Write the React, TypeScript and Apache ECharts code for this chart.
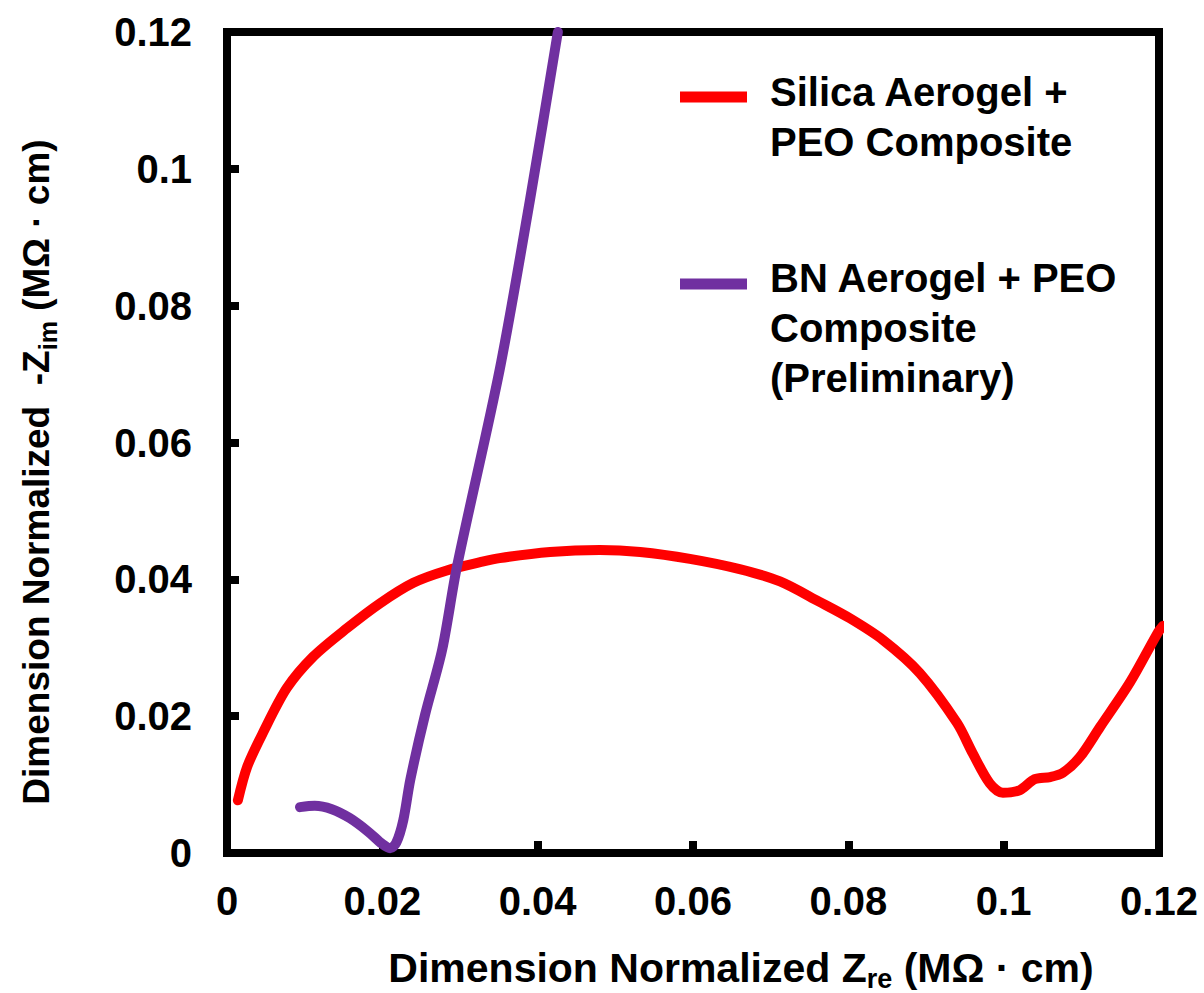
import React, { useEffect, useRef } from "react";
import * as echarts from "echarts";

const seriesNames = ["Silica Aerogel +\nPEO Composite", "BN Aerogel + PEO\nComposite\n(Preliminary)"];
const seriesColors = ["#FF0000", "#7030A0"];

const silicaZre = [0.0014, 0.0026, 0.0046, 0.0077, 0.0111, 0.0155, 0.0197, 0.024, 0.0283, 0.0326, 0.0351, 0.0416, 0.048, 0.0532, 0.0596, 0.066, 0.0712, 0.0763, 0.0802, 0.0845, 0.0892, 0.094, 0.096, 0.0982, 0.0999, 0.1021, 0.104, 0.106, 0.1076, 0.1098, 0.1124, 0.1163, 0.1199, 0.1205];
const silicaZim = [0.0077, 0.0126, 0.0175, 0.0241, 0.0287, 0.0329, 0.0365, 0.0395, 0.0413, 0.0425, 0.0431, 0.044, 0.0443, 0.044, 0.043, 0.0415, 0.0397, 0.0367, 0.0343, 0.0311, 0.0263, 0.019, 0.0146, 0.0102, 0.0088, 0.0092, 0.0108, 0.0111, 0.0117, 0.014, 0.0184, 0.025, 0.0323, 0.0332];

const bnZre = [0.0094, 0.0113, 0.0135, 0.0158, 0.0182, 0.02, 0.021, 0.0218, 0.0227, 0.0236, 0.0255, 0.0277, 0.0296, 0.0351, 0.039, 0.0426];
const bnZim = [0.0067, 0.0069, 0.0064, 0.0051, 0.0031, 0.0013, 0.0007, 0.0015, 0.0048, 0.0107, 0.0202, 0.0297, 0.0418, 0.0706, 0.0954, 0.12];

const axisMin = 0;
const axisMax = 0.12;
const axisStep = 0.02;

const FONT = "'Liberation Sans', Arial, Helvetica, sans-serif";

function zip(xs: number[], ys: number[]) {
  return xs.map((x, i) => [x, ys[i]]);
}

export default function App() {
  const ref = useRef<HTMLDivElement>(null);
  useEffect(() => {
    if (!ref.current) return;
    const chart = echarts.init(ref.current, undefined, { renderer: "svg" });
    const mainStyle = { fontSize: 41, fontWeight: "bold", fontFamily: FONT, color: "#000", lineHeight: 48, verticalAlign: "middle" };
    const subStyle = { fontSize: 27, fontWeight: "bold", fontFamily: FONT, color: "#000", lineHeight: 24, verticalAlign: "bottom" };
    const yMain = { ...mainStyle, fontSize: 37 };
    const ySub = { ...subStyle, fontSize: 25 };
    const legendText = (i: number, y: number) => ({
      type: "text",
      x: 770,
      y,
      style: {
        text: seriesNames[i],
        fill: "#000",
        font: `bold 40px ${FONT}`,
        lineHeight: 50,
        textAlign: "left",
        textVerticalAlign: "top",
        align: "left",
        verticalAlign: "top",
      },
    });
    chart.setOption({
      animation: false,
      backgroundColor: "#fff",
      grid: {
        left: 227,
        top: 32,
        right: 45,
        bottom: 140,
        show: true,
        borderColor: "#000",
        borderWidth: 8,
      },
      xAxis: {
        type: "value",
        min: axisMin,
        max: axisMax,
        interval: axisStep,
        axisLine: { show: true, lineStyle: { color: "#000", width: 8 } },
        axisTick: { show: true, inside: true, length: 12, lineStyle: { color: "#000", width: 8 } },
        splitLine: { show: false },
        axisLabel: { margin: 28, fontSize: 40, fontWeight: "bold", fontFamily: FONT, color: "#000" },
      },
      yAxis: {
        type: "value",
        min: axisMin,
        max: axisMax,
        interval: axisStep,
        axisLine: { show: true, lineStyle: { color: "#000", width: 8 } },
        axisTick: { show: true, inside: true, length: 12, lineStyle: { color: "#000", width: 8 } },
        splitLine: { show: false },
        axisLabel: { margin: 35, fontSize: 40, fontWeight: "bold", fontFamily: FONT, color: "#000" },
      },
      series: [
        {
          name: seriesNames[0],
          type: "line",
          data: zip(silicaZre, silicaZim),
          smooth: 0.3,
          showSymbol: false,
          symbol: "none",
          lineStyle: { color: seriesColors[0], width: 10, cap: "round", join: "round" },
          itemStyle: { color: seriesColors[0] },
          z: 2,
        },
        {
          name: seriesNames[1],
          type: "line",
          data: zip(bnZre, bnZim),
          smooth: 0.3,
          showSymbol: false,
          symbol: "none",
          lineStyle: { color: seriesColors[1], width: 10, cap: "round", join: "round" },
          itemStyle: { color: seriesColors[1] },
          z: 3,
        },
      ],
      graphic: [
        {
          type: "text",
          x: 741,
          y: 968,
          style: {
            text: "{m|Dimension Normalized Z}{s|re}{m| (MΩ · cm)}",
            rich: { m: mainStyle, s: subStyle },
            textAlign: "center",
            textVerticalAlign: "middle",
            align: "center",
            verticalAlign: "middle",
          },
        },
        {
          type: "text",
          x: 36,
          y: 472,
          rotation: Math.PI / 2,
          style: {
            text: "{m|Dimension Normalized  -Z}{s|im}{m| (MΩ · cm)}",
            rich: { m: yMain, s: ySub },
            textAlign: "center",
            textVerticalAlign: "middle",
            align: "center",
            verticalAlign: "middle",
          },
        },
        { type: "line", shape: { x1: 680, y1: 97, x2: 747, y2: 97 }, style: { stroke: seriesColors[0], lineWidth: 11 } },
        { type: "line", shape: { x1: 680, y1: 284, x2: 747, y2: 284 }, style: { stroke: seriesColors[1], lineWidth: 11 } },
        legendText(0, 67),
        legendText(1, 253),
      ],
    });
    return () => chart.dispose();
  }, []);
  return <div ref={ref} style={{ position: "absolute", left: 0, top: 0, width: 1204, height: 993 }} />;
}
